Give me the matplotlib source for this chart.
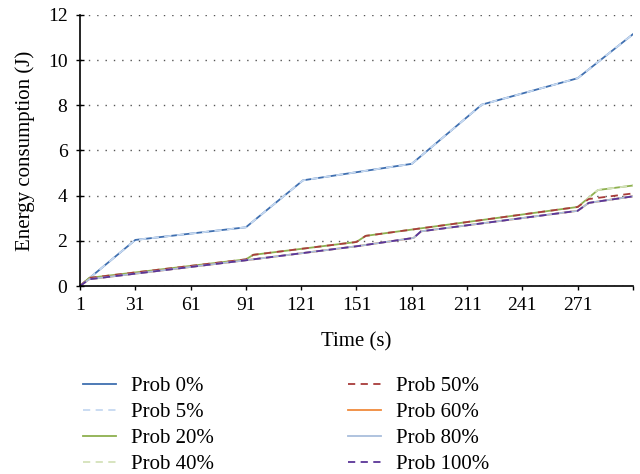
import matplotlib
matplotlib.use("Agg")
import matplotlib.pyplot as plt

plt.rcParams['font.family'] = ['Liberation Serif', 'DejaVu Serif']

# Breakpoints (time in s, energy in J)
x_top = [1, 31, 91, 122, 181, 219, 271, 301]
y_top = [0, 2.04, 2.60, 4.68, 5.41, 8.03, 9.20, 11.15]

x_mid = [1, 6, 91, 95, 151, 156, 271, 282, 301]
y_mid_20 = [0, 0.36, 1.18, 1.38, 1.95, 2.22, 3.50, 4.25, 4.45]

x_mid50 = [1, 6, 91, 95, 151, 156, 271, 277, 301]
y_mid_50 = [0, 0.36, 1.18, 1.38, 1.95, 2.22, 3.50, 3.85, 4.10]

x_low = [1, 6, 91, 152, 182, 186, 271, 277, 301]
y_low = [0, 0.30, 1.14, 1.77, 2.13, 2.42, 3.33, 3.68, 3.97]

labels = ["Prob 0%", "Prob 5%", "Prob 20%", "Prob 40%",
          "Prob 50%", "Prob 60%", "Prob 80%", "Prob 100%"]
series_x = [x_top, x_top, x_mid, x_mid, x_mid50, x_low, x_low, x_low]
series_y = [y_top, y_top, y_mid_20, y_mid_20, y_mid_50, y_low, y_low, y_low]
colors = ["#3F6FB0", "#C6D9F1", "#8DB04E", "#D4E2BA",
          "#A83C3A", "#F08A3C", "#A9BEDC", "#5B3597"]
styles = ["-", "--", "-", "--", "--", "-", "-", "--"]

xticks = [1, 31, 61, 91, 121, 151, 181, 211, 241, 271]
yticks = [0, 2, 4, 6, 8, 10, 12]

fig = plt.figure(figsize=(6.4, 4.74), dpi=100)
ax = fig.add_axes([0.125, 0.3966, 0.864, 0.5718])

for xs, ys, c, ls, lab in zip(series_x, series_y, colors, styles, labels):
    if ls == "--":
        ax.plot(xs, ys, color=c, lw=1.3, linestyle=(0, (4, 3)), label=lab)
    else:
        ax.plot(xs, ys, color=c, lw=1.3, linestyle="-", label=lab)

ax.set_xlim(1, 301)
ax.set_ylim(0, 12)
ax.set_xticks(xticks + [301])
ax.set_xticklabels([str(t) for t in xticks] + [""])
ax.set_yticks(yticks)
ax.tick_params(axis='x', labelsize=14, direction='out', length=3, width=1,
               color='black', pad=5)
ax.tick_params(axis='y', labelsize=14, direction='inout', length=6, width=1,
               color='black', pad=6)
ax.grid(axis='y', linestyle=(0, (1, 5)), color='#555555', lw=1)
ax.set_axisbelow(True)
for s in ['top', 'right']:
    ax.spines[s].set_visible(False)
for s in ['left', 'bottom']:
    ax.spines[s].set_linewidth(1.2)
ax.set_xlabel("Time (s)", fontsize=15, labelpad=13)
ax.set_ylabel("Energy consumption (J)", fontsize=15, labelpad=9)

handles, labs = ax.get_legend_handles_labels()
fig.legend(handles, labs, ncol=2, frameon=False, fontsize=15,
           loc='upper left', bbox_to_anchor=(0.116, 0.223),
           handlelength=1.6, handletextpad=0.72, columnspacing=6.42,
           labelspacing=0.31, borderaxespad=0)

fig.savefig("out.png", dpi=100)
